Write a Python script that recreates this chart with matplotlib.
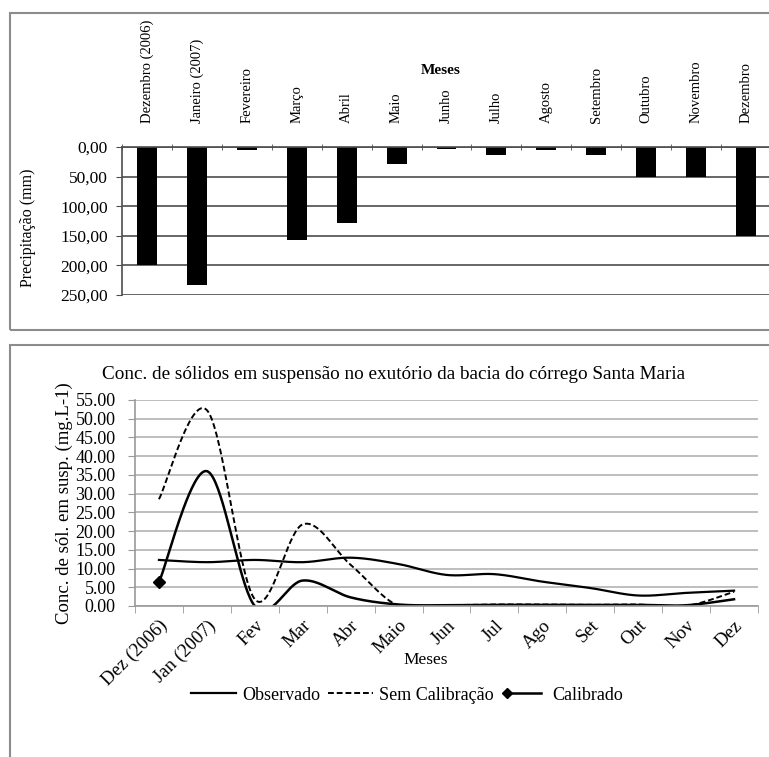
import numpy as np
import matplotlib
matplotlib.use("Agg")
import matplotlib.pyplot as plt
from matplotlib.patches import Rectangle
from matplotlib.legend_handler import HandlerLine2D

plt.rcParams['font.family'] = ['Liberation Serif', 'DejaVu Serif']

# precipitation (top chart)
meses_top = ['Dezembro (2006)', 'Janeiro (2007)', 'Fevereiro', 'Março', 'Abril', 'Maio',
             'Junho', 'Julho', 'Agosto', 'Setembro', 'Outubro', 'Novembro', 'Dezembro']
precip = [199, 233, 5, 157, 128, 29, 3, 14, 5, 13, 50, 50, 151]
precip_ticks = [0, 50, 100, 150, 200, 250]

# suspended solids (bottom chart)
meses_bot = ['Dez (2006)', 'Jan (2007)', 'Fev', 'Mar', 'Abr', 'Maio', 'Jun', 'Jul',
             'Ago', 'Set', 'Out', 'Nov', 'Dez']
observado = [12.3, 11.7, 12.3, 11.7, 12.9, 11.2, 8.3, 8.5, 6.5, 4.8, 2.8, 3.5, 4.1]
sem_calib = [28.5, 52.3, 1.8, 21.8, 11.0, 0.0, 0.2, 0.4, 0.4, 0.3, 0.4, 0.0, 3.8]
calibrado = [6.3, 36.0, 0.0, 6.8, 2.3, 0.4, 0.2, 0.3, 0.3, 0.3, 0.3, 0.2, 1.8]
conc_ticks = list(range(0, 60, 5))


def smooth(xs, ys, n=40):
    # excel-like smoothed line (catmull-rom as bezier)
    pts = np.column_stack([xs, ys]).astype(float)
    out = []
    for i in range(len(pts) - 1):
        p0 = pts[max(i - 1, 0)]
        p1 = pts[i]
        p2 = pts[i + 1]
        p3 = pts[min(i + 2, len(pts) - 1)]
        c1 = p1 + (p2 - p0) / 6
        c2 = p2 - (p3 - p1) / 6
        t = np.linspace(0, 1, n)[:, None]
        seg = (1 - t) ** 3 * p1 + 3 * (1 - t) ** 2 * t * c1 + 3 * (1 - t) * t ** 2 * c2 + t ** 3 * p2
        out.append(seg if i == 0 else seg[1:])
    s = np.vstack(out)
    return s[:, 0], s[:, 1]


class FirstMarkerHandler(HandlerLine2D):
    # legend line with the marker only on its left end
    def create_artists(self, legend, orig_handle, xdescent, ydescent, width, height, fontsize, trans):
        arts = super().create_artists(legend, orig_handle, xdescent, ydescent, width, height, fontsize, trans)
        arts[0].set_markevery([0])
        return arts


W, H = 769, 757
fig = plt.figure(figsize=(W / 100, H / 100), dpi=100)

# outer frames
for (x0, y0, x1, y1) in [(10, 13, 780, 330), (10, 345, 780, 770)]:
    fig.patches.append(Rectangle((x0 / W, 1 - y1 / H), (x1 - x0) / W, (y1 - y0) / H,
                                 transform=fig.transFigure, fill=False,
                                 edgecolor='#8c8c8c', lw=1.5))

# ---- top chart
ax1 = fig.add_axes([122 / W, 1 - 295 / H, (771 - 122) / W, (295 - 147) / H])
x = np.arange(len(meses_top))
ax1.bar(x, precip, width=0.4, color='black')
ax1.set_ylim(250, 0)
ax1.set_xlim(-0.5, len(meses_top) - 0.5)
ax1.set_yticks(precip_ticks)
ax1.set_yticklabels([f"{v:.2f}".replace('.', ',') for v in precip_ticks], fontsize=12.5)
ax1.yaxis.grid(True, color='#4d4d4d', lw=1.2)
ax1.set_axisbelow(True)
ax1.xaxis.tick_top()
ax1.set_xticks(x)
ax1.set_xticklabels(meses_top, rotation=90, fontsize=10.5, va='bottom')
ax1.tick_params(axis='x', which='major', length=0, pad=17)
ax1.set_xticks(np.arange(len(meses_top) + 1) - 0.5, minor=True)
ax1.tick_params(axis='x', which='minor', length=4, direction='inout', color='#4d4d4d', top=True, bottom=False)
ax1.tick_params(axis='y', length=4, color='#4d4d4d', pad=6)
for s in ['right', 'bottom']:
    ax1.spines[s].set_visible(False)
for s in ['top', 'left']:
    ax1.spines[s].set_color('#4d4d4d')
    ax1.spines[s].set_linewidth(1.2)
ax1.set_ylabel('Precipitação (mm)', fontsize=11.5)
ax1.yaxis.set_label_coords(-0.132, 0.453)
fig.text(441 / W, 1 - 70 / H, 'Meses', fontsize=11, fontweight='bold', ha='center', va='center')

# ---- bottom chart
ax2 = fig.add_axes([135 / W, 1 - 606 / H, (758 - 135) / W, (606 - 400) / H])
xb = np.arange(len(meses_bot))
sx, sy = smooth(xb, observado)
l1, = ax2.plot(sx, sy, color='black', lw=1.6)
sx, sy = smooth(xb, sem_calib)
l2, = ax2.plot(sx, sy, color='black', lw=1.4, ls=(0, (3, 1.5)))
sx, sy = smooth(xb, calibrado)
ax2.plot(sx, sy, color='black', lw=1.8)
ax2.plot(xb[:1], calibrado[:1], color='black', ls='None', marker='D', ms=6)
proxy3, = ax2.plot([], [], color='black', lw=1.8, marker='D', ms=5)
ax2.set_xlim(-0.5, len(meses_bot) - 0.5)
ax2.set_ylim(0, 55)
ax2.set_yticks(conc_ticks)
ax2.set_yticklabels([f"{v:.2f}" for v in conc_ticks], fontsize=13)
ax2.yaxis.grid(True, color='#b3b3b3', lw=1.2)
ax2.set_axisbelow(True)
ax2.set_xticks(xb)
ax2.set_xticklabels(meses_bot, rotation=45, ha='right', rotation_mode='anchor', fontsize=13.5)
ax2.tick_params(axis='x', which='major', length=0, pad=8)
ax2.set_xticks(np.arange(len(meses_bot) + 1) - 0.5, minor=True)
ax2.tick_params(axis='x', which='minor', length=5, color='#999999')
ax2.tick_params(axis='y', length=5, color='#999999', pad=9)
for s in ['right', 'top']:
    ax2.spines[s].set_visible(False)
for s in ['bottom', 'left']:
    ax2.spines[s].set_color('#999999')
    ax2.spines[s].set_linewidth(1.2)
ax2.set_ylabel('Conc. de sól. em susp. (mg.L-1)', fontsize=13.5, labelpad=2)
ax2.set_title('Conc. de sólidos em suspensão no exutório da bacia do córrego Santa Maria',
              fontsize=13.8, x=(394 - 135) / (758 - 135), pad=15)
fig.text(426 / W, 1 - 660 / H, 'Meses', fontsize=12.5, ha='center', va='center')
fig.legend([l1, l2, proxy3], ['Observado', 'Sem Calibração', 'Calibrado'],
           loc='center', bbox_to_anchor=(407 / W, 1 - 695 / H), ncol=3, frameon=False,
           fontsize=13, handlelength=2.5, columnspacing=0.45, handletextpad=0.3,
           handler_map={proxy3: FirstMarkerHandler(numpoints=2)})

fig.savefig('out.png', dpi=100)
